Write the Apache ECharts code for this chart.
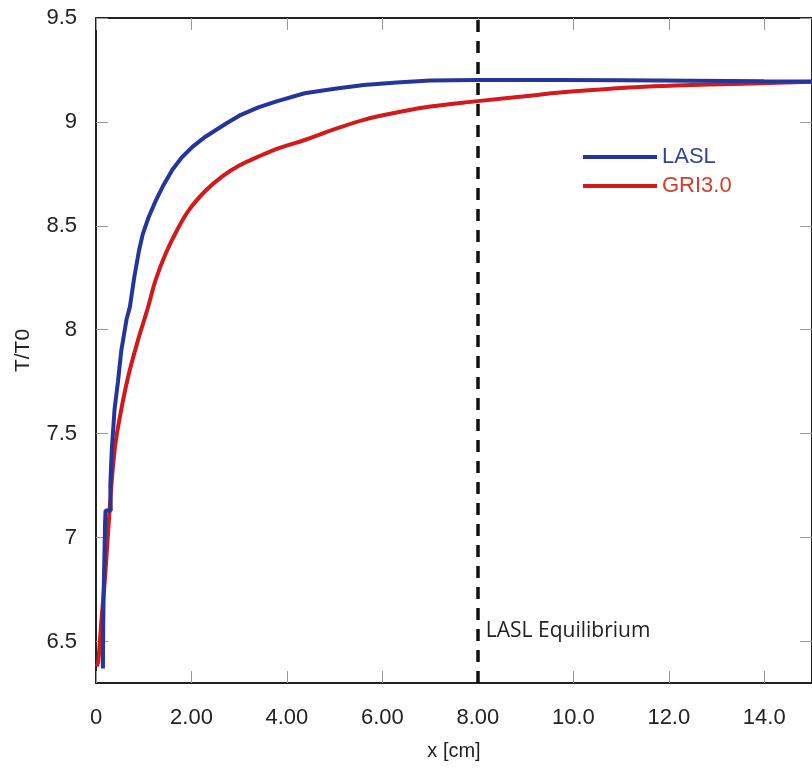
<!DOCTYPE html>
<html>
<head>
<meta charset="utf-8">
<script src="https://cdn.jsdelivr.net/npm/echarts@6/dist/echarts.min.js"></script>
<style>
html,body{margin:0;padding:0;background:#fff;}
#chart{width:812px;height:774px;}
</style>
</head>
<body>
<div id="chart"></div>
<script>
// ---- data ----
const laslX = [0.145,0.15,0.16,0.18,0.19,0.20,0.31,0.30,0.33,0.36,0.39,0.46,0.53,0.64,0.71,0.80,0.90,0.98,1.10,1.25,1.40,1.60,1.80,2.02,2.30,2.71,3.00,3.40,3.80,4.37,5.00,5.61,6.30,7.00,8.00,9.66,11.0,12.5,14.0,15.0];
const laslY = [6.37,6.55,6.74,6.95,7.07,7.13,7.13,7.25,7.42,7.52,7.62,7.75,7.90,8.05,8.11,8.25,8.38,8.46,8.54,8.62,8.69,8.77,8.83,8.88,8.93,8.99,9.03,9.07,9.10,9.138,9.16,9.178,9.19,9.199,9.202,9.202,9.200,9.198,9.196,9.195];
const griX = [0.02,0.05,0.12,0.19,0.29,0.39,0.50,0.67,0.88,1.085,1.25,1.465,1.70,1.95,2.30,2.64,3.00,3.40,3.85,4.37,5.00,5.61,6.30,7.00,8.00,9.25,9.66,10.5,11.3,12.3,13.37,14.8,15.0];
const griY = [6.38,6.41,6.62,6.81,7.15,7.42,7.58,7.77,7.95,8.104,8.24,8.369,8.48,8.577,8.67,8.737,8.79,8.833,8.875,8.913,8.965,9.01,9.045,9.074,9.10,9.13,9.14,9.155,9.167,9.176,9.183,9.192,9.193];
const seriesNames = ['LASL','GRI3.0'];
const xTickValues = [0,2,4,6,8,10,12,14];
const xTickLabels = ['0','2.00','4.00','6.00','8.00','10.0','12.0','14.0'];
const yTickValues = [6.5,7,7.5,8,8.5,9,9.5];
const yTickLabels = ['6.5','7','7.5','8','8.5','9','9.5'];
const equilibriumX = 8;
const equilibriumLabel = 'LASL Equilibrium';
const equilibriumLabelY = 6.55;

const zip = (xs, ys) => xs.map((x, i) => [x, ys[i]]);
const FONT = 'Liberation Sans';
const BLUE = '#25359b', RED = '#d2191b';

const chart = echarts.init(document.getElementById('chart'));
const tickStyle = {show: true, inside: true, length: 12, lineStyle: {color: '#999', width: 1}};
const axisLine = {show: true, onZero: false, lineStyle: {color: '#222', width: 2}};

chart.setOption({
  animation: false,
  backgroundColor: '#fff',
  grid: {left: 96, top: 18, width: 723, height: 665, containLabel: false},
  legend: {
    orient: 'vertical', left: 583, top: 146, padding: 0,
    icon: 'rect', itemWidth: 74, itemHeight: 4, itemGap: 7,
    textStyle: {fontFamily: FONT, fontSize: 22, lineHeight: 22},
    data: [
      {name: seriesNames[0], textStyle: {color: '#34449c'}},
      {name: seriesNames[1], textStyle: {color: '#d0402c'}}
    ]
  },
  xAxis: [{
    type: 'value', min: 0, max: 15, interval: 2, position: 'bottom',
    name: 'x [cm]', nameLocation: 'middle', nameGap: 58,
    nameTextStyle: {fontFamily: FONT, fontSize: 20, color: '#222'},
    axisLine: axisLine,
    axisTick: tickStyle,
    splitLine: {show: false},
    axisLabel: {
      margin: 24, fontFamily: FONT, fontSize: 22, color: '#222', showMaxLabel: false,
      formatter: v => { const i = xTickValues.indexOf(v); return i >= 0 ? xTickLabels[i] : ''; }
    }
  }, {
    type: 'value', min: 0, max: 15, interval: 2, position: 'top',
    axisLine: axisLine, axisTick: tickStyle, axisLabel: {show: false}, splitLine: {show: false}
  }],
  yAxis: [{
    type: 'value', min: 6.3, max: 9.5, position: 'left',
    name: 'T/T0', nameLocation: 'middle', nameGap: 62, nameRotate: 90,
    nameTextStyle: {fontFamily: FONT, fontSize: 21, color: '#222'},
    axisLine: axisLine,
    axisTick: Object.assign({}, tickStyle, {customValues: yTickValues}),
    splitLine: {show: false},
    axisLabel: {
      margin: 19, fontFamily: FONT, fontSize: 22, color: '#222',
      customValues: yTickValues,
      formatter: v => { const i = yTickValues.findIndex(t => Math.abs(t - v) < 1e-6); return i >= 0 ? yTickLabels[i] : ''; }
    }
  }, {
    type: 'value', min: 6.3, max: 9.5, position: 'right',
    axisLine: axisLine,
    axisTick: Object.assign({}, tickStyle, {customValues: yTickValues}),
    axisLabel: {show: false}, splitLine: {show: false}
  }],
  series: [{
    name: seriesNames[1], type: 'line', data: zip(griX, griY),
    showSymbol: false, smooth: 0.4,
    lineStyle: {color: RED, width: 4}, itemStyle: {color: RED}, z: 2
  }, {
    name: seriesNames[0], type: 'line', data: zip(laslX, laslY),
    showSymbol: false, smooth: false,
    lineStyle: {color: BLUE, width: 4}, itemStyle: {color: BLUE}, z: 3,
    markLine: {
      silent: true, symbol: ['none', 'none'], label: {show: false},
      lineStyle: {color: '#111', width: 3.5, type: [12, 9]},
      data: [{xAxis: equilibriumX}]
    },
    markPoint: {
      silent: true, symbol: 'circle', symbolSize: 0,
      label: {show: true, position: 'right', distance: 8, formatter: equilibriumLabel,
        fontFamily: 'Open Sans', fontSize: 21, color: '#222'},
      data: [{coord: [equilibriumX, equilibriumLabelY]}]
    }
  }]
});
</script>
</body>
</html>
